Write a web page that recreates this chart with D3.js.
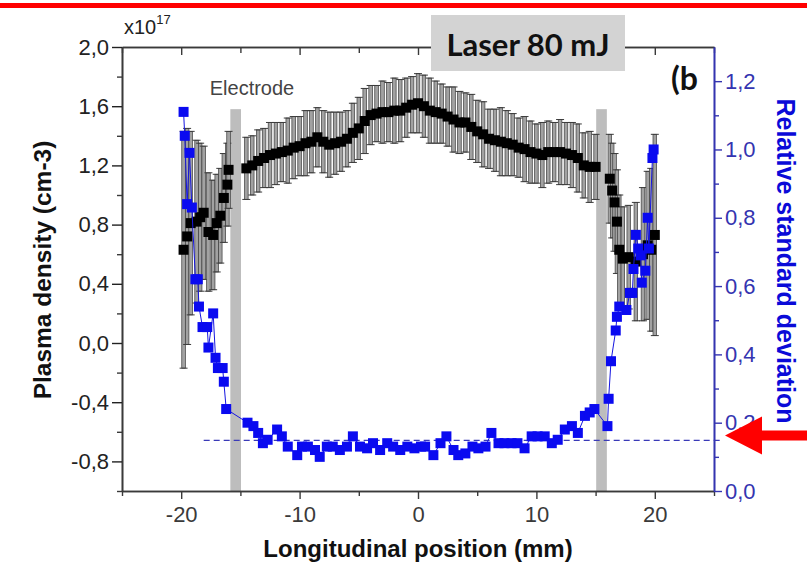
<!DOCTYPE html>
<html>
<head>
<meta charset="utf-8">
<script src="https://cdn.jsdelivr.net/npm/d3@7"></script>
<style>
  body { margin: 0; background: #fff; }
  svg { display: block; }
  text { font-family: 'Liberation Sans', Arial, sans-serif; }
</style>
</head>
<body>
<div id="chart"></div>
<script>
// plasma density (x10^17 cm-3), black squares with error bars, left axis
var densLeftPos = [-19.8, -19.5, -19.2, -18.7, -18.4, -18.1, -17.7, -17.3, -17.0, -16.7, -16.4, -16.1, -16.0]
var densLeftVal = [0.63, 0.72, 0.81, 0.82, 0.85, 0.88, 0.75, 0.73, 0.81, 0.86, 0.98, 1.07, 1.17]
var densLeftErr = [0.80, 0.73, 0.62, 0.55, 0.50, 0.45, 0.40, 0.37, 0.33, 0.32, 0.30, 0.28, 0.26]

var densMidPos = [-14.5, -14, -13.5, -13, -12.5, -12, -11.5, -11, -10.5, -10, -9.5, -9, -8.5, -8, -7.5,
    -7, -6.5, -6, -5.5, -5, -4.5, -4, -3.5, -3, -2.5, -2, -1.5, -1, -0.5, 0,
    0.5, 1, 1.5, 2, 2.5, 3, 3.5, 4, 4.5, 5, 5.5, 6, 6.5, 7, 7.5,
    8, 8.5, 9, 9.5, 10, 10.5, 11, 11.5, 12, 12.5, 13, 13.5, 14, 14.5, 15]
var densMidVal = [1.18, 1.20, 1.23, 1.25, 1.27, 1.28, 1.29, 1.30, 1.32, 1.33, 1.35, 1.36, 1.39, 1.36, 1.34,
    1.35, 1.36, 1.38, 1.42, 1.45, 1.50, 1.54, 1.55, 1.56, 1.56, 1.57, 1.57, 1.59, 1.61, 1.62,
    1.60, 1.57, 1.56, 1.55, 1.53, 1.51, 1.49, 1.49, 1.46, 1.43, 1.41, 1.38, 1.37, 1.36, 1.35,
    1.34, 1.32, 1.31, 1.29, 1.28, 1.27, 1.29, 1.29, 1.29, 1.28, 1.27, 1.25, 1.20, 1.19, 1.19]
var densMidErr = [0.21, 0.20, 0.21, 0.20, 0.22, 0.21, 0.20, 0.22, 0.21, 0.20, 0.22, 0.21, 0.20, 0.21, 0.22,
    0.21, 0.20, 0.19, 0.20, 0.21, 0.22, 0.20, 0.19, 0.21, 0.20, 0.22, 0.21, 0.20, 0.19, 0.20,
    0.21, 0.22, 0.21, 0.20, 0.20, 0.22, 0.21, 0.20, 0.22, 0.21, 0.22, 0.20, 0.21, 0.23, 0.22,
    0.21, 0.20, 0.22, 0.21, 0.20, 0.22, 0.21, 0.20, 0.22, 0.21, 0.22, 0.23, 0.22, 0.24, 0.22]

var densRightPos = [16.2, 16.4, 16.6, 16.8, 17.0, 17.3, 17.8, 18.4, 19.0, 19.4, 19.7, 20.0]
var densRightVal = [1.11, 1.03, 0.95, 0.82, 0.63, 0.57, 0.58, 0.55, 0.60, 0.66, 0.63, 0.73]
var densRightErr = [0.30, 0.32, 0.33, 0.35, 0.37, 0.35, 0.35, 0.40, 0.45, 0.50, 0.55, 0.68]

// relative standard deviation, blue squares, right axis
var rsdPos = [-19.8, -19.7, -19.5, -19.3, -19.1, -18.8, -18.6, -18.5, -18.2, -17.8, -17.7, -17.3, -17.1, -16.9, -16.5, -16.4, -16.2,
    -14.4, -13.9, -13.5, -13.1, -12.7, -11.9, -11.5, -11.0, -10.2, -9.8, -9.3, -8.7, -8.3, -7.7, -7.2, -6.6, -6.0, -5.5,
    -4.9, -4.3, -3.8, -3.2, -2.6, -2.1, -1.5, -0.9, -0.3, 0.25, 0.6, 1.3, 1.9, 2.4, 3.0, 3.4, 4.0, 4.6, 5.1, 5.7,
    6.2, 6.8, 7.3, 7.9, 8.4, 9.0, 9.6, 10.1, 10.7, 11.3, 11.8, 12.4, 13.0, 13.5, 14.1, 14.5, 14.9,
    16.0, 16.1, 16.3, 16.7, 16.8, 17.0, 17.6, 17.9, 18.1, 18.2, 18.4, 18.6, 18.8, 18.9, 19.2, 19.4, 19.5, 19.8, 19.9]
var rsdVal = [1.11, 1.04, 0.84, 0.99, 0.83, 0.62, 0.62, 0.54, 0.48, 0.48, 0.42, 0.52, 0.39, 0.36, 0.36, 0.32, 0.24,
    0.20, 0.19, 0.17, 0.14, 0.15, 0.18, 0.16, 0.13, 0.105, 0.13, 0.13, 0.12, 0.10, 0.13, 0.13, 0.12, 0.13, 0.16,
    0.13, 0.125, 0.14, 0.12, 0.14, 0.13, 0.12, 0.13, 0.125, 0.13, 0.13, 0.105, 0.14, 0.16, 0.12, 0.105, 0.11, 0.13, 0.125, 0.13,
    0.17, 0.14, 0.14, 0.14, 0.14, 0.125, 0.16, 0.16, 0.16, 0.14, 0.15, 0.18, 0.19, 0.17, 0.22, 0.23, 0.24,
    0.19, 0.27, 0.38, 0.47, 0.51, 0.54, 0.53, 0.58, 0.58, 0.65, 0.75, 0.71, 0.69, 0.61, 0.645, 0.80, 0.71, 0.975, 1.00]

var electrodePos = [-15.4, 15.5]
var electrodeWidth = 0.9
var electrodeTop = 1.58
var baselineRange = [-18.1, 25.6]
var baselineRsd = 0.148

var xTicksMajor = [-20, -10, 0, 10, 20]
var xTicksMinor = [-25, -15, -5, 5, 15, 25]
var leftTicksMajor = [-0.8, -0.4, 0.0, 0.4, 0.8, 1.2, 1.6, 2.0]
var leftTicksMinor = [-1.0, -0.6, -0.2, 0.2, 0.6, 1.0, 1.4, 1.8]
var rightTicksMajor = [0.0, 0.2, 0.4, 0.6, 0.8, 1.0, 1.2]
var rightTicksMinor = [0.1, 0.3, 0.5, 0.7, 0.9, 1.1]

var width = 807
var height = 563
var plot = { left: 122, right: 714, top: 47, bottom: 491 }

var axisGrey = '#3a3a3a'
var axisBlue = '#3434b0'

var hyphen = function(s) { return s.replace('\u2212', '-') }
var comma = function(d) { return hyphen(d3.format('.1f')(d).replace('.', ',')) }
var whole = function(d) { return hyphen(d3.format('d')(d)) }

var svg = d3.select('#chart').append('svg')
    .attr('width', width)
    .attr('height', height)

var x = d3.scaleLinear().domain([-25, 25]).range([plot.left, plot.right])
var yL = d3.scaleLinear().domain([-1.0, 2.0]).range([plot.bottom, plot.top])
var yR = d3.scaleLinear().domain([0, 1.3]).range([plot.bottom, plot.top])

// red bar across the top
svg.append('rect')
    .attr('x', 0).attr('y', 3)
    .attr('width', width).attr('height', 5)
    .attr('fill', '#ff0000')

// electrodes
svg.selectAll('.electrode').data(electrodePos).enter().append('rect')
    .attr('class', 'electrode')
    .attr('x', function(d) { return x(d - electrodeWidth / 2) })
    .attr('width', x(electrodeWidth) - x(0))
    .attr('y', yL(electrodeTop))
    .attr('height', yL(-1.0) - yL(electrodeTop))
    .attr('fill', '#bdbdbd')

// axes
function drawAxis(axis, tx, ty, color, size, labels) {
    var g = svg.append('g')
        .attr('transform', 'translate(' + tx + ',' + ty + ')')
        .call(axis.tickSize(size).tickSizeOuter(0))
    g.select('.domain').attr('stroke', color).attr('stroke-width', 1.6)
    g.selectAll('.tick line').attr('stroke', color).attr('stroke-width', 1.4)
    g.selectAll('.tick text')
        .attr('fill', color)
        .style('font-size', '22px')
        .style('font-family', "'Liberation Sans', Arial, sans-serif")
    if (!labels) g.selectAll('.tick text').remove()
    return g
}

drawAxis(d3.axisBottom(x).tickValues(xTicksMinor), 0, plot.bottom, axisGrey, 5, false)
drawAxis(d3.axisBottom(x).tickValues(xTicksMajor).tickFormat(whole).tickPadding(7), 0, plot.bottom, axisGrey, 8, true)
drawAxis(d3.axisTop(x).tickValues(xTicksMinor), 0, plot.top, axisGrey, -6, false)
drawAxis(d3.axisTop(x).tickValues(xTicksMajor), 0, plot.top, axisGrey, -8, false)
drawAxis(d3.axisLeft(yL).tickValues(leftTicksMinor), plot.left, 0, axisGrey, 5, false)
drawAxis(d3.axisLeft(yL).tickValues(leftTicksMajor).tickFormat(comma).tickPadding(3), plot.left, 0, '#222', 10, true)
    .select('.domain').attr('stroke', axisGrey)
drawAxis(d3.axisRight(yR).tickValues(rightTicksMinor), plot.right, 0, axisBlue, 5, false)
drawAxis(d3.axisRight(yR).tickValues(rightTicksMajor).tickFormat(comma).tickPadding(3), plot.right, 0, axisBlue, 8, true)

// dashed reference level
svg.append('line')
    .attr('x1', x(baselineRange[0])).attr('x2', x(baselineRange[1]))
    .attr('y1', yR(baselineRsd)).attr('y2', yR(baselineRsd))
    .attr('stroke', '#3a3ab8')
    .attr('stroke-width', 1.3)
    .attr('stroke-dasharray', '6,4')

// density points with error bars
var dens = []
;[[densLeftPos, densLeftVal, densLeftErr], [densMidPos, densMidVal, densMidErr], [densRightPos, densRightVal, densRightErr]]
    .forEach(function(s) {
        s[0].forEach(function(p, i) { dens.push({ x: p, v: s[1][i], e: s[2][i] }) })
    })

var bars = svg.append('g').selectAll('g').data(dens).enter().append('g')
bars.append('rect')
    .attr('x', function(d) { return x(d.x) - 1.8 })
    .attr('width', 3.6)
    .attr('y', function(d) { return yL(d.v + d.e) })
    .attr('height', function(d) { return yL(d.v - d.e) - yL(d.v + d.e) })
    .attr('fill', '#a2a2a2')
    .attr('stroke', '#3c3c3c')
    .attr('stroke-width', 0.7)
bars.selectAll('.cap').data(function(d) { return [d.v + d.e, d.v - d.e].map(function(v) { return { x: d.x, v: v } }) })
    .enter().append('line')
    .attr('class', 'cap')
    .attr('x1', function(d) { return x(d.x) - 4 })
    .attr('x2', function(d) { return x(d.x) + 4 })
    .attr('y1', function(d) { return yL(d.v) })
    .attr('y2', function(d) { return yL(d.v) })
    .attr('stroke', '#3c3c3c')
    .attr('stroke-width', 1)

svg.append('g').selectAll('rect').data(dens).enter().append('rect')
    .attr('x', function(d) { return x(d.x) - 5 })
    .attr('y', function(d) { return yL(d.v) - 5 })
    .attr('width', 10).attr('height', 10)
    .attr('fill', '#000')

// relative standard deviation
var rsd = rsdPos.map(function(p, i) { return { x: p, v: rsdVal[i] } })

svg.append('path')
    .datum(rsd)
    .attr('d', d3.line().x(function(d) { return x(d.x) }).y(function(d) { return yR(d.v) }))
    .attr('fill', 'none')
    .attr('stroke', '#1515e0')
    .attr('stroke-width', 1)

svg.append('g').selectAll('rect').data(rsd).enter().append('rect')
    .attr('x', function(d) { return x(d.x) - 5 })
    .attr('y', function(d) { return yR(d.v) - 5 })
    .attr('width', 10).attr('height', 10)
    .attr('fill', '#0a0af0')

// labels
var expo = svg.append('text')
    .attr('x', 124).attr('y', 34)
    .attr('fill', '#222')
    .style('font-size', '20px')
    .text('x10')
expo.append('tspan').attr('dy', -10).style('font-size', '13px').text('17')

svg.append('text')
    .attr('x', 252).attr('y', 95)
    .attr('text-anchor', 'middle')
    .attr('fill', '#444')
    .style('font-size', '20px')
    .text('Electrode')

svg.append('rect')
    .attr('x', 431).attr('y', 15)
    .attr('width', 194).attr('height', 56)
    .attr('fill', '#d3d3d3')

svg.append('text')
    .attr('x', 528).attr('y', 56)
    .attr('text-anchor', 'middle')
    .attr('fill', '#111')
    .style('font-family', 'Lato, sans-serif')
    .style('font-weight', 'bold')
    .style('font-size', '31px')
    .text('Laser 80 mJ')

svg.append('text')
    .attr('x', 671).attr('y', 90)
    .attr('fill', '#111')
    .style('font-family', 'Lato, sans-serif')
    .style('font-weight', 'bold')
    .style('font-size', '32px')
    .text('(b')

svg.append('text')
    .attr('transform', 'translate(51,270) rotate(-90)')
    .attr('text-anchor', 'middle')
    .attr('fill', '#111')
    .style('font-weight', 'bold')
    .style('font-size', '24.5px')
    .text('Plasma density (cm-3)')

svg.append('text')
    .attr('transform', 'translate(777,261) rotate(90)')
    .attr('text-anchor', 'middle')
    .attr('fill', '#0a0ad8')
    .style('font-weight', 'bold')
    .style('font-size', '25px')
    .text('Relative standard deviation')

svg.append('text')
    .attr('x', 418).attr('y', 557)
    .attr('text-anchor', 'middle')
    .attr('fill', '#111')
    .style('font-weight', 'bold')
    .style('font-size', '24px')
    .text('Longitudinal position (mm)')

// red arrow pointing at the reference level
var ay = yR(baselineRsd) - 5
var ax = plot.right + 11
svg.append('path')
    .attr('d', 'M' + ax + ',' + ay + 'L' + (ax + 37) + ',' + (ay - 19) + 'L' + (ax + 37) + ',' + (ay - 5) +
        'L' + width + ',' + (ay - 5) + 'L' + width + ',' + (ay + 5) + 'L' + (ax + 37) + ',' + (ay + 5) +
        'L' + (ax + 37) + ',' + (ay + 19) + 'Z')
    .attr('fill', '#ff0000')
</script>
</body>
</html>
